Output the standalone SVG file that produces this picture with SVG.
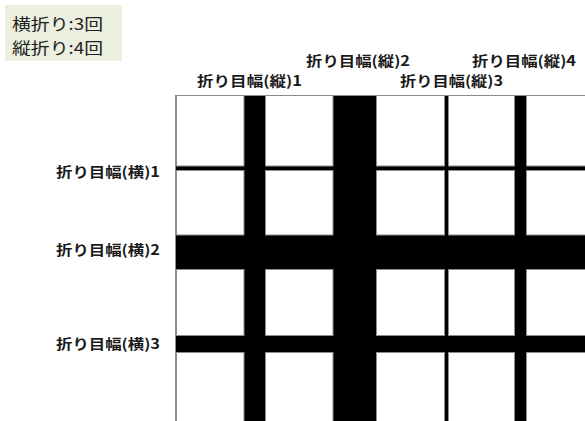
<svg xmlns="http://www.w3.org/2000/svg" width="585" height="421" viewBox="0 0 585 421">
<style>
.info{font-family:"Noto Sans CJK JP","Noto Sans",sans-serif;font-size:16px;fill:#222}
.lbl{font-family:"Noto Sans CJK JP","Noto Sans",sans-serif;font-size:14px;font-weight:bold;fill:#1a1a1a}
.cell{fill:#fff;stroke:#8c8c8c;stroke-width:1}
.band{fill:#000}
</style>
<rect width="585" height="421" fill="#fff"/>
<g id="info">
<rect x="5" y="5" width="117" height="56" fill="#ebefdf"/>
<text class="info" x="12" y="30" textLength="91" lengthAdjust="spacingAndGlyphs">横折り:3回</text>
<text class="info" x="12" y="54" textLength="91" lengthAdjust="spacingAndGlyphs">縦折り:4回</text>
</g>
<g id="grid">
<line x1="175.5" y1="95" x2="175.5" y2="421" stroke="#8c8c8c"/>
<line x1="176" y1="95.5" x2="585" y2="95.5" stroke="#8c8c8c"/>
<rect class="band" x="176" y="96" width="409" height="325"/>
<rect class="cell" x="176.5" y="95.5" width="67.5" height="70.5"/>
<rect class="cell" x="265.5" y="95.5" width="67.5" height="70.5"/>
<rect class="cell" x="376.5" y="95.5" width="68" height="70.5"/>
<rect class="cell" x="448.5" y="95.5" width="66" height="70.5"/>
<rect class="cell" x="526.5" y="95.5" width="62" height="70.5"/>
<rect class="cell" x="176.5" y="170.5" width="67.5" height="64.5"/>
<rect class="cell" x="265.5" y="170.5" width="67.5" height="64.5"/>
<rect class="cell" x="376.5" y="170.5" width="68" height="64.5"/>
<rect class="cell" x="448.5" y="170.5" width="66" height="64.5"/>
<rect class="cell" x="526.5" y="170.5" width="62" height="64.5"/>
<rect class="cell" x="176.5" y="269.5" width="67.5" height="66"/>
<rect class="cell" x="265.5" y="269.5" width="67.5" height="66"/>
<rect class="cell" x="376.5" y="269.5" width="68" height="66"/>
<rect class="cell" x="448.5" y="269.5" width="66" height="66"/>
<rect class="cell" x="526.5" y="269.5" width="62" height="66"/>
<rect class="cell" x="176.5" y="352.5" width="67.5" height="72"/>
<rect class="cell" x="265.5" y="352.5" width="67.5" height="72"/>
<rect class="cell" x="376.5" y="352.5" width="68" height="72"/>
<rect class="cell" x="448.5" y="352.5" width="66" height="72"/>
<rect class="cell" x="526.5" y="352.5" width="62" height="72"/>
</g>
<g id="labels-v">
<text class="lbl" x="197" y="86" textLength="105" lengthAdjust="spacingAndGlyphs">折り目幅(縦)1</text>
<text class="lbl" x="306" y="66" textLength="104" lengthAdjust="spacingAndGlyphs">折り目幅(縦)2</text>
<text class="lbl" x="400" y="86" textLength="103" lengthAdjust="spacingAndGlyphs">折り目幅(縦)3</text>
<text class="lbl" x="472" y="66" textLength="104" lengthAdjust="spacingAndGlyphs">折り目幅(縦)4</text>
</g>
<g id="labels-h">
<text class="lbl" x="56" y="177" textLength="104" lengthAdjust="spacingAndGlyphs">折り目幅(横)1</text>
<text class="lbl" x="56" y="255" textLength="104" lengthAdjust="spacingAndGlyphs">折り目幅(横)2</text>
<text class="lbl" x="56" y="349" textLength="104" lengthAdjust="spacingAndGlyphs">折り目幅(横)3</text>
</g>
</svg>
